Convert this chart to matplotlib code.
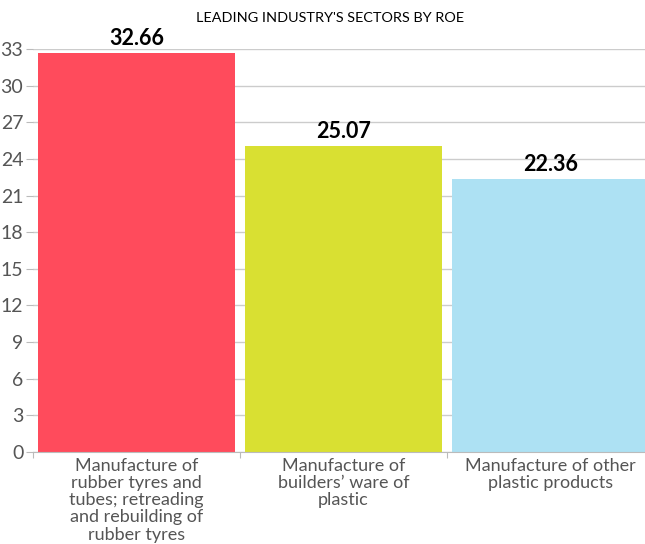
import matplotlib
matplotlib.use("Agg")
import matplotlib.pyplot as plt

categories = [
    "Manufacture of\nrubber tyres and\ntubes; retreading\nand rebuilding of\nrubber tyres",
    "Manufacture of\nbuilders\u2019 ware of\nplastic",
    "Manufacture of other\nplastic products",
]
values = [32.66, 25.07, 22.36]
colors = ["#FF4B5C", "#D9E032", "#ADE1F3"]
yticks = list(range(0, 34, 3))
title = "LEADING INDUSTRY'S SECTORS BY ROE"

plt.rcParams['font.family'] = ['Lato', 'DejaVu Sans']

W, H = 645, 544
fig = plt.figure(figsize=(W / 100, H / 100), dpi=100)
left, right = 33 / W, 654 / W
bottom, top = (H - 452) / H, (H - 49) / H
ax = fig.add_axes([left, bottom, right - left, top - bottom])

x = list(range(len(values)))
ax.bar(x, values, width=0.95, color=colors, zorder=2)
ax.set_xlim(-0.5, len(values) - 0.5)
ax.set_ylim(0, 33)
ax.set_yticks(yticks)
ax.set_yticklabels([str(t) for t in yticks], fontsize=14, color="#555555")
ax.grid(axis='y', color="#cccccc", linewidth=1, zorder=0)
for s in ['top', 'right', 'left']:
    ax.spines[s].set_visible(False)
ax.spines['bottom'].set_color("#bbbbbb")
ax.tick_params(axis='y', length=5, color="#bbbbbb", pad=2)

ax.set_xticks([-0.5, 0.5, 1.5, 2.5])
ax.set_xticklabels([])
ax.tick_params(axis='x', length=4, color="#bbbbbb")
for i, c in enumerate(categories):
    ax.annotate(c, (i, 0), xytext=(0, -4), textcoords='offset points',
                ha='center', va='top', fontsize=13, color="#555555",
                linespacing=1.1)

for i, v in enumerate(values):
    ax.annotate(f"{v:.2f}", (i, v), xytext=(0, 3), textcoords='offset points',
                ha='center', va='bottom', fontsize=15.5, fontweight='bold', color='black')

fig.text(330 / W, 1 - 18 / H, title, ha='center', va='center', fontsize=10.4, color='black')

fig.savefig("out.png", dpi=100)
